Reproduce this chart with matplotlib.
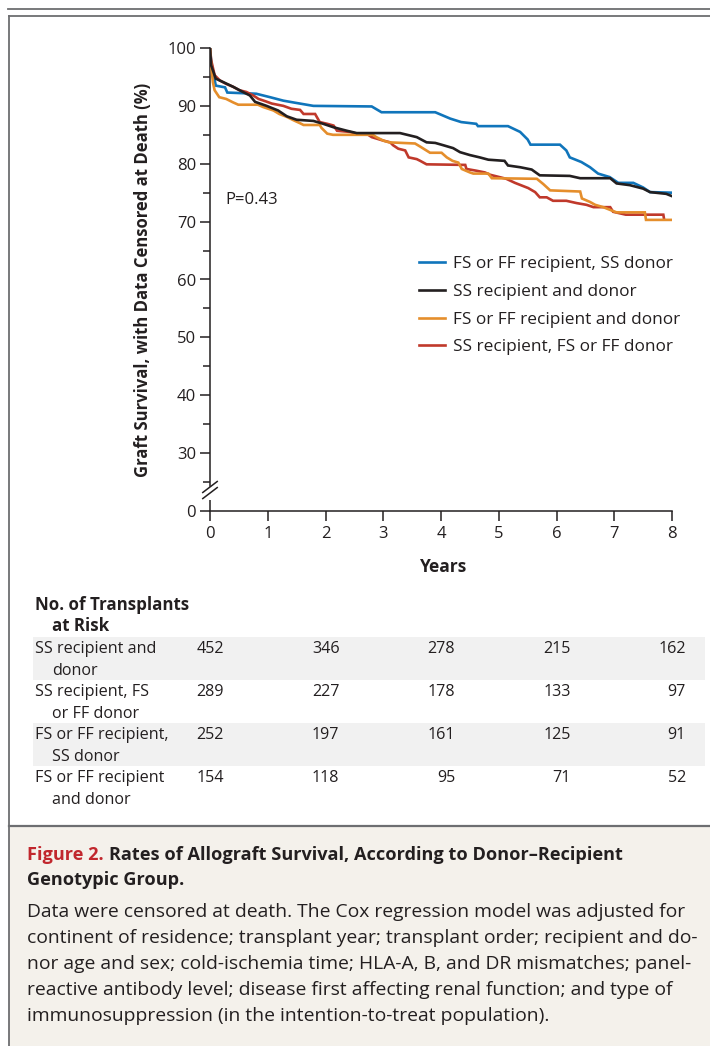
import matplotlib
matplotlib.use("Agg")
import matplotlib.pyplot as plt
from matplotlib.lines import Line2D
from matplotlib.patches import Rectangle
from matplotlib.transforms import offset_copy, blended_transform_factory

W, H = 710, 1046
FONT = ["Open Sans", "DejaVu Sans"]
plt.rcParams['font.family'] = FONT
TXT = "#231f20"

# ---------------- data ----------------
years = [0, 1, 2, 3, 4, 5, 6, 7, 8]
y_ticks = [20, 30, 40, 50, 60, 70, 80, 90, 100]
y_tick_labels = ["0", "30", "40", "50", "60", "70", "80", "90", "100"]

blue_t = [0, 0.02, 0.1, 0.26, 0.3, 0.8, 1.04, 1.27, 1.44, 1.79, 2.8, 2.97, 3.9, 4.16, 4.35,
          4.61, 4.64, 5.16, 5.37, 5.5, 5.55, 6.06, 6.17, 6.23, 6.43, 6.58, 6.72, 6.92, 7.07,
          7.33, 7.5, 7.62, 8.0]
blue_v = [100, 97.6, 93.5, 93.2, 92.3, 92.1, 91.5, 90.9, 90.6, 90.0, 89.9, 88.9, 88.9, 87.8, 87.2,
          86.9, 86.5, 86.5, 85.5, 84.2, 83.3, 83.3, 82.3, 81.1, 80.3, 79.4, 78.3, 77.7, 76.7,
          76.7, 75.9, 75.1, 75.0]

black_t = [0, 0.02, 0.1, 0.23, 0.4, 0.57, 0.69, 0.78, 0.98, 1.18, 1.33, 1.5, 1.79, 1.96, 2.14,
           2.37, 2.54, 3.29, 3.58, 3.75, 3.9, 4.04, 4.21, 4.33, 4.5, 4.67, 4.82, 5.1, 5.16, 5.37,
           5.57, 5.71, 6.23, 6.41, 6.93, 7.04, 7.27, 7.5, 7.62, 7.9, 8.0]
black_v = [100, 97.0, 94.7, 94.1, 93.3, 92.4, 91.8, 90.7, 90.0, 89.2, 88.2, 87.6, 87.4, 86.9, 86.3,
           85.7, 85.3, 85.3, 84.6, 83.7, 83.6, 83.2, 82.7, 82.0, 81.5, 81.1, 80.7, 80.5, 79.7, 79.4,
           79.0, 78.0, 77.9, 77.5, 77.5, 76.6, 76.3, 75.7, 75.1, 74.8, 74.4]

orange_t = [0, 0.02, 0.05, 0.08, 0.16, 0.28, 0.4, 0.49, 0.83, 0.92, 1.1, 1.2, 1.33, 1.45, 1.56,
            1.62, 1.9, 1.93, 2.03, 2.13, 2.82, 2.88, 3.0, 3.1, 3.55, 3.65, 3.81, 4.01, 4.1, 4.2,
            4.3, 4.36, 4.5, 4.56, 4.82, 4.88, 5.66, 5.77, 5.89, 6.41, 6.44, 6.58, 6.67, 6.81,
            6.96, 7.04, 7.53, 7.55, 8.0]
orange_v = [100, 97.0, 94.1, 92.7, 91.5, 91.2, 90.6, 90.2, 90.2, 89.8, 89.2, 88.6, 88.1, 87.5, 87.0,
            86.7, 86.7, 86.2, 85.2, 85.0, 85.0, 84.6, 84.0, 83.7, 83.5, 82.9, 81.9, 81.9, 81.1, 80.5,
            80.2, 79.1, 78.5, 78.3, 78.3, 77.5, 77.4, 76.5, 75.4, 75.2, 74.0, 73.4, 72.9, 72.5,
            71.9, 71.6, 71.6, 70.3, 70.3]

red_t = [0, 0.02, 0.08, 0.17, 0.28, 0.4, 0.51, 0.63, 0.75, 0.84, 0.96, 1.07, 1.27, 1.41, 1.56,
         1.62, 1.82, 1.9, 2.03, 2.14, 2.2, 2.31, 2.42, 2.54, 2.71, 2.8, 3.0, 3.12, 3.17, 3.26,
         3.38, 3.44, 3.58, 3.64, 3.75, 4.42, 4.44, 4.61, 4.76, 4.85, 5.13, 5.28, 5.51, 5.63,
         5.71, 5.83, 5.94, 6.17, 6.35, 6.52, 6.64, 6.93, 6.98, 7.2, 7.85, 7.86]
red_v = [100, 97.9, 95.3, 94.4, 93.8, 93.3, 92.7, 92.4, 91.8, 91.2, 90.8, 90.4, 90.0, 89.5, 89.3,
         88.6, 88.6, 87.2, 86.9, 86.6, 85.7, 85.6, 85.5, 85.2, 85.2, 84.6, 84.0, 83.7, 83.2, 82.6,
         82.3, 81.1, 80.8, 80.5, 79.9, 79.8, 79.1, 78.8, 78.5, 78.1, 77.4, 76.7, 75.8, 75.1,
         74.2, 74.2, 73.6, 73.6, 73.2, 72.9, 72.5, 72.5, 71.7, 71.2, 71.2, 70.6]

series_labels = ["FS or FF recipient, SS donor", "SS recipient and donor",
                 "FS or FF recipient and donor", "SS recipient, FS or FF donor"]
series_colors = ["#1075bb", "#231f20", "#e58e2c", "#c0392b"]

risk_years = [0, 2, 4, 6, 8]
risk_labels = [("SS recipient and", "donor"), ("SS recipient, FS", "or FF donor"),
               ("FS or FF recipient,", "SS donor"), ("FS or FF recipient", "and donor")]
risk_ss = [452, 346, 278, 215, 162]
risk_ss_ff = [289, 227, 178, 133, 97]
risk_ff_ss = [252, 197, 161, 125, 91]
risk_ff = [154, 118, 95, 71, 52]

# ---------------- figure ----------------
fig = plt.figure(figsize=(W / 100, H / 100), dpi=100)
fig.patch.set_facecolor("white")


def fx(x):
    return x / W


def fy(y):
    return 1 - y / H


# frame
GRAY = "#6d6e71"
fig.add_artist(Line2D([fx(8), 1], [fy(8.5), fy(8.5)], color=GRAY, lw=1.3))
fig.add_artist(Line2D([fx(8.5), 1], [fy(15.5), fy(15.5)], color=GRAY, lw=1.3))
fig.add_artist(Line2D([fx(8.5), fx(8.5)], [fy(15.5), 0], color=GRAY, lw=1.3))
fig.add_artist(Rectangle((fx(9.2), 0), 1 - fx(9.2), fy(826.5), color="#f4f1eb", lw=0, zorder=0))
fig.add_artist(Line2D([fx(8.5), 1], [fy(826), fy(826)], color=GRAY, lw=1.6))

# axes
ax_l, ax_r, ax_t, ax_b = 210, 672, 48, 511
ax = fig.add_axes([fx(ax_l), fy(ax_b), (ax_r - ax_l) / W, (ax_b - ax_t) / H])
ax.set_xlim(0, 8)
ax.set_ylim(20, 100)
for s in ["top", "right"]:
    ax.spines[s].set_visible(False)
for s in ["left", "bottom"]:
    ax.spines[s].set_color(TXT)
    ax.spines[s].set_linewidth(1.1)
ax.spines["left"].set_bounds(24.4, 100)
ax.plot([0, 0], [20, 21.9], color=TXT, lw=1.1, clip_on=False, solid_capstyle="butt")
# break marks
for yc in [24.15, 23.1]:
    ax.plot([-0.125, 0.125], [yc - 0.95, yc + 0.95], color=TXT, lw=1.1, clip_on=False)

ax.set_xticks(years)
ax.set_xticklabels([str(v) for v in years])
ax.set_yticks(y_ticks)
ax.set_yticklabels(y_tick_labels)
ax.set_yticks([25, 35, 45, 55, 65, 75, 85, 95], minor=True)
ax.tick_params(axis="both", which="major", direction="out", length=7, width=1.1,
               color=TXT, labelsize=12, labelcolor=TXT)
ax.tick_params(axis="y", which="major", pad=3)
ax.tick_params(axis="x", which="major", pad=4)
ax.tick_params(axis="y", which="minor", direction="out", length=5, width=1.1, color=TXT)

data = [(blue_t, blue_v), (black_t, black_v), (orange_t, orange_v), (red_t, red_v)]
zorders = [3, 5, 4, 3.5]
handles = []
for (t, v), c, lab, z in zip(data, series_colors, series_labels, zorders):
    h, = ax.plot(t, v, color=c, lw=1.9, label=lab, zorder=z, solid_joinstyle="miter")
    handles.append(h)

leg = ax.legend(handles=handles, loc="upper left",
                bbox_to_anchor=(fx(419), fy(256)), bbox_transform=fig.transFigure,
                frameon=False, fontsize=12.4, handlelength=1.5, handletextpad=0.45,
                labelspacing=0.68, borderpad=0, borderaxespad=0)
for t in leg.get_texts():
    t.set_color(TXT)

ax.text(0.27, 73.7, "P=0.43", fontsize=12, color=TXT, va="center", ha="left")

fig.text(fx(143), fy(280), "Graft Survival, with Data Censored at Death (%)", rotation=90,
         ha="center", va="center", fontsize=12.0, fontweight="bold", color=TXT)
fig.text(fx(444), fy(572), "Years", ha="center", va="baseline", fontsize=12.5,
         fontweight="bold", color=TXT)

# risk table
fig.text(fx(35), fy(610), "No. of Transplants", fontsize=12.2, fontweight="bold", color=TXT,
         va="baseline")
fig.text(fx(52), fy(631), "at Risk", fontsize=12.2, fontweight="bold", color=TXT, va="baseline")

row_tops = [637, 680, 723, 766]
row_h = 43
risk_rows = [risk_ss, risk_ss_ff, risk_ff_ss, risk_ff]
num_tr = blended_transform_factory(offset_copy(ax.transData, fig=fig, x=14, y=0, units="dots"),
                                   fig.transFigure)
for i, (top, (l1, l2), vals) in enumerate(zip(row_tops, risk_labels, risk_rows)):
    if i % 2 == 0:
        fig.add_artist(Rectangle((fx(33), fy(top + row_h)), fx(705) - fx(33), row_h / H,
                                 color="#f1f1f1", lw=0, zorder=0))
    b1 = top + 16
    fig.text(fx(35), fy(b1), l1, fontsize=11.6, color=TXT, va="baseline")
    fig.text(fx(52), fy(b1 + 22), l2, fontsize=11.6, color=TXT, va="baseline")
    for yr, v in zip(risk_years, vals):
        fig.text(yr, fy(b1), str(v), fontsize=11.6, color=TXT, va="baseline", ha="right",
                 transform=num_tr)

# caption
cap_red = "#c1272d"
t1 = fig.text(fx(27), fy(860), "Figure 2.", fontsize=13.1, fontweight="bold", color=cap_red,
              va="baseline")
fig.canvas.draw()
bb = t1.get_window_extent()
fig.text(bb.x1 / W + 5 / W, fy(860), "Rates of Allograft Survival, According to Donor\u2013Recipient",
         fontsize=13.1, fontweight="bold", color=TXT, va="baseline")
fig.text(fx(27), fy(885), "Genotypic Group.", fontsize=13.1, fontweight="bold", color=TXT,
         va="baseline")
body = ["Data were censored at death. The Cox regression model was adjusted for",
        "continent of residence; transplant year; transplant order; recipient and do-",
        "nor age and sex; cold-ischemia time; HLA-A, B, and DR mismatches; panel-",
        "reactive antibody level; disease first affecting renal function; and type of",
        "immunosuppression (in the intention-to-treat population)."]
for i, line in enumerate(body):
    fig.text(fx(27), fy(917 + 26 * i), line, fontsize=13.9, color=TXT, va="baseline")

fig.savefig("out.png", dpi=100)
